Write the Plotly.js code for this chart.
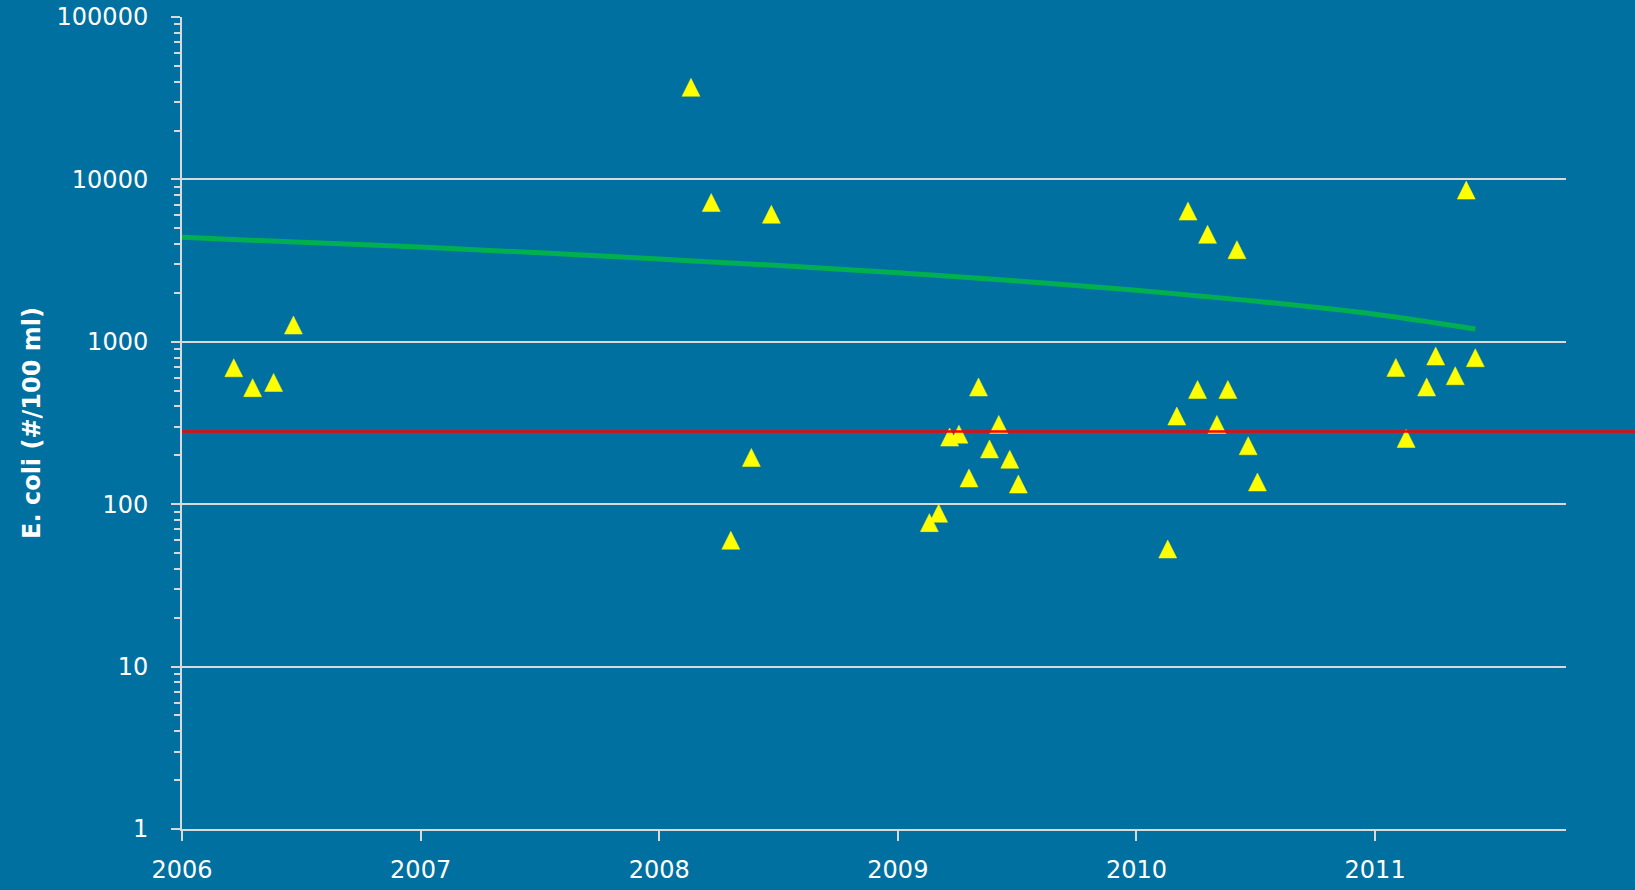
<!DOCTYPE html>
<html>
<head>
<meta charset="utf-8">
<script src="https://cdn.plot.ly/plotly-3.0.1.min.js"></script>
<style>
  html, body { margin: 0; padding: 0; background: #0070a0; }
  #chart { width: 1635px; height: 890px; }
</style>
</head>
<body>
<div id="chart"></div>
<script>
// Sample dates (decimal years) and E. coli counts (#/100 ml)
var sampleYears = [2006.217, 2006.296, 2006.384, 2006.467,
  2008.133, 2008.218, 2008.300, 2008.386, 2008.470,
  2009.132, 2009.171, 2009.217, 2009.256, 2009.298, 2009.338, 2009.384, 2009.423, 2009.469, 2009.505,
  2010.131, 2010.169, 2010.216, 2010.256, 2010.298, 2010.337, 2010.383, 2010.421, 2010.468, 2010.507,
  2011.087, 2011.130, 2011.216, 2011.254, 2011.336, 2011.382, 2011.420];
var ecoliValues = [692, 522, 562, 1268,
  36900, 7200, 60, 194, 6100,
  77, 88, 259, 270, 145, 527, 219, 310, 189, 133,
  53, 349, 6380, 508, 4590, 310, 508, 3690, 229, 137,
  695, 254, 527, 817, 618, 8590, 798];

// Trend line
var trendYears  = [2006, 2006.5, 2007, 2007.5, 2008, 2008.5, 2009, 2009.5, 2010, 2010.5, 2011, 2011.42];
var trendValues = [4400, 4100, 3830, 3530, 3230, 2950, 2660, 2370, 2080, 1780, 1480, 1200];

// Standard (red line)
var standardValue = 280;

// Axis ticks
var yTickVals = [1, 10, 100, 1000, 10000, 100000];
var yTickText = ['1', '10', '100', '1000', '10000', '100000'];
var xTickVals = [2006, 2007, 2008, 2009, 2010, 2011];
var xTickText = ['2006', '2007', '2008', '2009', '2010', '2011'];

var bg = '#0070a0';
var grey = '#d9d9d9';
var fontFam = '"DejaVu Sans", sans-serif';

var traces = [
  {
    x: trendYears, y: trendValues, type: 'scatter', mode: 'lines',
    line: {color: '#00b050', width: 5, shape: 'spline'},
    hoverinfo: 'skip', showlegend: false
  },
  {
    x: sampleYears, y: ecoliValues, type: 'scatter', mode: 'markers',
    marker: {symbol: 'arrow-down', angle: 180, standoff: 9, size: 18,
             color: '#ffff00', line: {color: '#ffff00', width: 0.5}},
    cliponaxis: false, showlegend: false
  }
];

var layout = {
  width: 1635, height: 890,
  paper_bgcolor: bg, plot_bgcolor: bg,
  margin: {l: 182, r: 69, t: 17, b: 61},
  font: {family: fontFam, color: '#ffffff', size: 24},
  showlegend: false,
  xaxis: {
    range: [2006, 2011.80],
    tickmode: 'array', tickvals: xTickVals, ticktext: xTickText,
    showgrid: false, zeroline: false,
    showline: true, linecolor: grey, linewidth: 2,
    ticks: 'outside', ticklen: 10, tickwidth: 2, tickcolor: grey,
    ticklabelstandoff: 8,
    tickfont: {family: fontFam, size: 24, color: '#ffffff'}
  },
  yaxis: {
    type: 'log', range: [0, 5],
    tickmode: 'array', tickvals: yTickVals, ticktext: yTickText,
    showgrid: true, gridcolor: grey, gridwidth: 2,
    zeroline: false,
    showline: true, linecolor: grey, linewidth: 2,
    ticks: 'outside', ticklen: 9, tickwidth: 2, tickcolor: grey,
    ticklabelstandoff: 18,
    minor: {dtick: 'D1', ticks: 'outside', ticklen: 6, tickwidth: 2, tickcolor: grey, showgrid: false},
    tickfont: {family: fontFam, size: 24, color: '#ffffff'},
    title: {text: '<b>E. coli (#/100 ml)</b>', font: {family: fontFam, size: 24, color: '#ffffff'}, standoff: 9}
  },
  shapes: [
    {type: 'line', xref: 'paper', yref: 'y', x0: 0, x1: 1.06, y0: standardValue, y1: standardValue,
     line: {color: '#ff0000', width: 2.5}, layer: 'above'}
  ]
};

Plotly.newPlot('chart', traces, layout, {displayModeBar: false, staticPlot: true});
</script>
</body>
</html>
